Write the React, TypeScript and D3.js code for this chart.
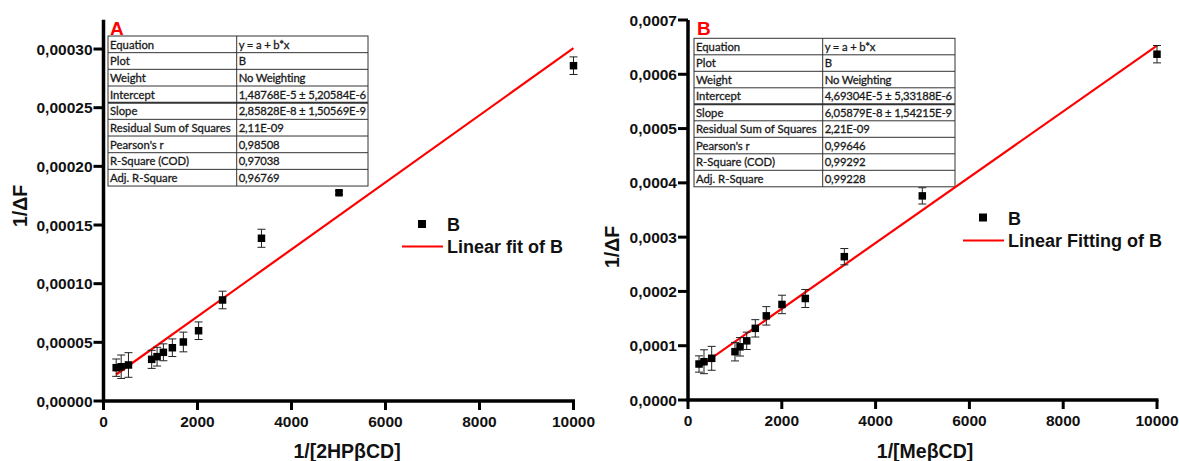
import React from "react";
import * as d3 from "d3";

// ---------- DATA ----------
const xA = [270, 376, 531, 1025, 1140, 1274, 1465, 1699, 2023, 2533, 3361, 5011, 10000];
const yA = [2.84e-5, 2.92e-5, 3.07e-5, 3.55e-5, 3.78e-5, 4.15e-5, 4.54e-5, 5.03e-5, 5.99e-5, 8.61e-5, 1.387e-4, 1.775e-4, 2.858e-4];
const eA = [7.4e-6, 1.0e-5, 1.05e-5, 7.7e-6, 8e-6, 7.2e-6, 7.5e-6, 8.4e-6, 7.5e-6, 7.5e-6, 7.7e-6, 1.5e-6, 7.5e-6];
const fitA = { a: 1.48768e-5, b: 2.85828e-8 };

const xB = [235, 341, 505, 1002, 1110, 1252, 1435, 1670, 2004, 2501, 3333, 4996, 10000];
const yB = [6.63e-5, 7.05e-5, 7.68e-5, 8.9e-5, 9.8e-5, 1.09e-4, 1.32e-4, 1.55e-4, 1.76e-4, 1.87e-4, 2.64e-4, 3.76e-4, 6.37e-4];
const eB = [1.5e-5, 2.2e-5, 2.2e-5, 1.7e-5, 1.7e-5, 1.6e-5, 1.6e-5, 1.7e-5, 1.7e-5, 1.66e-5, 1.5e-5, 1.5e-5, 1.6e-5];
const fitB = { a: 4.69304e-5, b: 6.05879e-8 };

const xTicks = [0, 2000, 4000, 6000, 8000, 10000];
const yTicksA = [0, 0.00005, 0.0001, 0.00015, 0.0002, 0.00025, 0.0003];
const yTicksB = [0, 0.0001, 0.0002, 0.0003, 0.0004, 0.0005, 0.0006, 0.0007];

const tableLabels = ["Equation", "Plot", "Weight", "Intercept", "Slope", "Residual Sum of Squares", "Pearson's r", "R-Square (COD)", "Adj. R-Square"];
const tableValuesA = ["y = a + b*x", "B", "No Weighting", "1,48768E-5 ± 5,20584E-6", "2,85828E-8 ± 1,50569E-9", "2,11E-09", "0,98508", "0,97038", "0,96769"];
const tableValuesB = ["y = a + b*x", "B", "No Weighting", "4,69304E-5 ± 5,33188E-6", "6,05879E-8 ± 1,54215E-9", "2,21E-09", "0,99646", "0,99292", "0,99228"];

const AX_FONT = "'Liberation Sans', Arial, sans-serif";
const TB_FONT = "Lato, 'Open Sans', sans-serif";

type PanelProps = {
  xs: number[]; ys: number[]; es: number[];
  fit: { a: number; b: number };
  yMax: number; yTicks: number[]; yDigits: number;
  xRange: [number, number]; yRange: [number, number];
  letter: string; letterX: number;
  table: { x: number; y: number; w: number; col: number; rowH: number; values: string[] };
  legend: { sq: [number, number]; line: [number, number, number]; text: string };
  xTitle: string; xTitleX: number;
  yTitleX: number; yTitleY: number;
};

function Panel(p: PanelProps) {
  const x = d3.scaleLinear().domain([0, 10000]).range(p.xRange);
  const y = d3.scaleLinear().domain([0, p.yMax]).range(p.yRange);
  const fmt = (v: number) => d3.format(`.${p.yDigits}f`)(v).replace(".", ",");
  const x0 = x(0), y0 = y(0);
  const xmin = d3.min(p.xs)!;
  const xmax = d3.max(p.xs)!;
  const line = d3.line<number>().x((v) => x(v)).y((v) => y(p.fit.a + p.fit.b * v));
  const t = p.table;
  return (
    <g>
      {/* table */}
      <g fontFamily={TB_FONT} fontSize={11.3} fill="#1a1a1a" stroke="#1a1a1a" strokeWidth={0.3}>
        <rect x={t.x} y={t.y} width={t.w} height={t.rowH * 9} fill="white" stroke="#333" strokeWidth={1} />
        {tableLabels.map((lab, i) => (
          <g key={i}>
            {i > 0 && (
              <line x1={t.x} x2={t.x + t.w} y1={t.y + i * t.rowH} y2={t.y + i * t.rowH} stroke="#333" strokeWidth={i === 4 ? 2 : 1} />
            )}
            <text x={t.x + 2} y={t.y + i * t.rowH + 12.6}>{lab}</text>
            <text x={t.col + 2} y={t.y + i * t.rowH + 12.6} letterSpacing={-0.15}>{t.values[i]}</text>
          </g>
        ))}
        <line x1={t.col} x2={t.col} y1={t.y} y2={t.y + t.rowH * 9} stroke="#333" strokeWidth={1} />
      </g>
      {/* letter */}
      <text x={p.letterX} y={35} fontFamily={AX_FONT} fontWeight="bold" fontSize={19} fill="#ff0000">{p.letter}</text>
      {/* fit line */}
      <path d={line([xmin, xmax]) || ""} stroke="#ff0000" strokeWidth={2.2} fill="none" />
      {/* error bars and points */}
      {p.xs.map((xv, i) => {
        const cx = x(xv), cy = y(p.ys[i]);
        const top = y(p.ys[i] + p.es[i]), bot = y(p.ys[i] - p.es[i]);
        return (
          <g key={i}>
            <line x1={cx} x2={cx} y1={top} y2={bot} stroke="#222" strokeWidth={1} />
            <line x1={cx - 4} x2={cx + 4} y1={top} y2={top} stroke="#222" strokeWidth={1} />
            <line x1={cx - 4} x2={cx + 4} y1={bot} y2={bot} stroke="#222" strokeWidth={1} />
            <rect x={cx - 3.75} y={cy - 3.75} width={7.5} height={7.5} fill="#000" />
          </g>
        );
      })}
      {/* axes */}
      <line x1={x0} x2={x0} y1={p.yRange[1]} y2={y0 + 1.5} stroke="#000" strokeWidth={3.5} />
      <line x1={x0 - 1.5} x2={x(10000) + 1.5} y1={y0} y2={y0} stroke="#000" strokeWidth={3.5} />
      {p.yTicks.map((v, i) => (
        <g key={i}>
          <line x1={x0 - 10} x2={x0} y1={y(v)} y2={y(v)} stroke="#000" strokeWidth={3} />
          <text x={x0 - 11} y={y(v) + 5.5} textAnchor="end" fontFamily={AX_FONT} fontWeight="bold" fontSize={15.5} fill="#111">{fmt(v)}</text>
        </g>
      ))}
      {xTicks.map((v, i) => (
        <g key={i}>
          <line x1={x(v)} x2={x(v)} y1={y0} y2={y0 + 9} stroke="#000" strokeWidth={3} />
          <text x={x(v)} y={y0 + 26} textAnchor="middle" fontFamily={AX_FONT} fontWeight="bold" fontSize={15.5} fill="#111">{v}</text>
        </g>
      ))}
      <text x={p.xTitleX} y={458} textAnchor="middle" fontFamily={AX_FONT} fontWeight="bold" fontSize={19.5} fill="#111">{p.xTitle}</text>
      <text transform={`translate(${p.yTitleX},${p.yTitleY}) rotate(-90)`} textAnchor="middle" fontFamily={AX_FONT} fontWeight="bold" fontSize={19.5} fill="#111">1/ΔF</text>
      {/* legend */}
      <rect x={p.legend.sq[0] - 4} y={p.legend.sq[1] - 4} width={8} height={8} fill="#000" />
      <text x={p.legend.sq[0] + 25} y={p.legend.sq[1] + 7} fontFamily={AX_FONT} fontWeight="bold" fontSize={18} fill="#111">B</text>
      <line x1={p.legend.line[0]} x2={p.legend.line[1]} y1={p.legend.line[2]} y2={p.legend.line[2]} stroke="#ff0000" strokeWidth={2.2} />
      <text x={p.legend.line[1] + 4} y={p.legend.line[2] + 6.5} fontFamily={AX_FONT} fontWeight="bold" fontSize={18} fill="#111">{p.legend.text}</text>
    </g>
  );
}

export default function App() {
  return (
    <div style={{ position: "absolute", left: 0, top: 0 }}>
      <svg width={1179} height={461} style={{ display: "block", background: "white" }}>
        <Panel
          xs={xA} ys={yA} es={eA} fit={fitA}
          yMax={0.000325} yTicks={yTicksA} yDigits={5}
          xRange={[103.5, 573.5]} yRange={[401, 19.7]}
          letter="A" letterX={110}
          table={{ x: 108, y: 36, w: 260, col: 236.7, rowH: 16.67, values: tableValuesA }}
          legend={{ sq: [422, 224], line: [402, 443, 246.5], text: "Linear fit of B" }}
          xTitle="1/[2HPβCD]" xTitleX={347}
          yTitleX={27} yTitleY={206}
        />
        <Panel
          xs={xB} ys={yB} es={eB} fit={fitB}
          yMax={0.0007} yTicks={yTicksB} yDigits={4}
          xRange={[688, 1157]} yRange={[400, 20]}
          letter="B" letterX={697}
          table={{ x: 694, y: 38.3, w: 261, col: 822.7, rowH: 16.5, values: tableValuesB }}
          legend={{ sq: [983, 217.5], line: [963, 1004, 240.5], text: "Linear Fitting of B" }}
          xTitle="1/[MeβCD]" xTitleX={925}
          yTitleX={619} yTitleY={247}
        />
      </svg>
    </div>
  );
}
